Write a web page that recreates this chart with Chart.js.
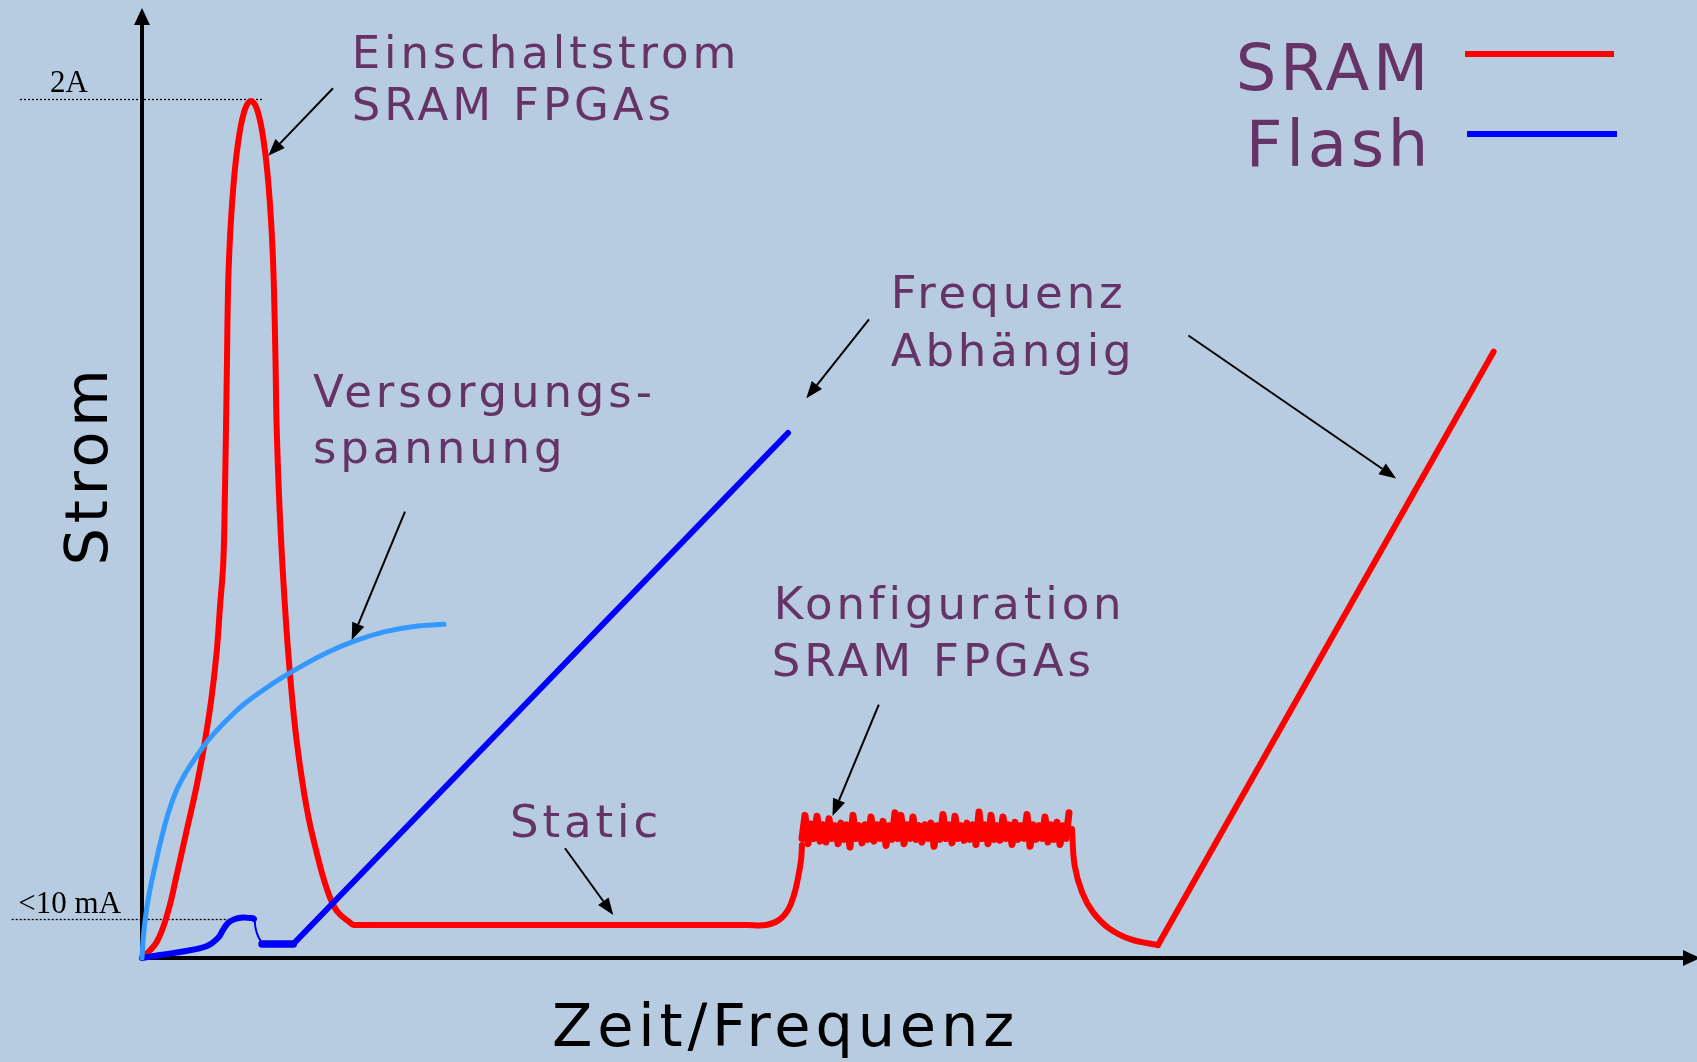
<!DOCTYPE html>
<html><head><meta charset="utf-8">
<script src="https://cdn.jsdelivr.net/npm/chart.js@4.4.1/dist/chart.umd.min.js"></script>
<style>html,body{margin:0;padding:0;background:#b8cce1;overflow:hidden}</style>
</head><body>
<canvas id="c" width="1697" height="1062"></canvas>
<script>
// ---------- DATA (x: Zeit/Frequenz units, y: Strom, 2A = 100) ----------
const seriesNames = ["SRAM", "Flash"];
const levelLabels = ["2A", "<10 mA"];
const levelValues = [100, 4.54];

// Versorgungsspannung (light blue)
const versX = [0, 0.15, 0.45, 0.85, 1.35, 1.9, 2.6, 3.4, 4.3, 5.3, 6.9, 9.07, 10.4, 12.2, 14.2, 16.4, 18.8, 21.5, 24.3, 27.2, 30.2];
const versY = [0, 2.68, 5.59, 8.26, 10.94, 13.73, 16.76, 19.38, 21.41, 23.22, 25.72, 28.36, 29.73, 31.25, 32.76, 34.26, 35.70, 36.98, 37.98, 38.59, 38.83];

// Flash: power-up bump and frequency ramp
const flashBumpX = [0, 1.8, 4.1, 6.5, 7.6, 8.1, 8.6, 9.3, 10.1, 10.8, 11.2, 11.35, 11.6, 12.0];
const flashBumpY = [0, 0.35, 0.76, 1.40, 2.33, 3.26, 4.07, 4.54, 4.71, 4.65, 4.54, 3.49, 2.56, 1.75];
const flashRampX = [12.0, 15.13, 64.6];
const flashRampY = [1.63, 1.63, 61.1];

// SRAM: inrush peak
const sramPeakX = [0, 1.47, 2.63, 3.47, 4.47, 5.47, 6.30, 6.97, 7.47, 7.80, 8.13, 8.28, 8.40, 8.50, 8.60, 8.74, 8.93, 9.15, 9.39, 9.65, 9.90, 10.13, 10.35, 10.61, 10.90, 11.19, 11.45, 11.67, 11.90, 12.15, 12.41, 12.65, 12.87, 13.06, 13.20, 13.35, 13.47, 13.80, 14.30, 14.80, 15.47, 16.47, 17.47, 18.47, 19.47, 20.97];
const sramPeakY = [0, 1.86, 5.50, 9.66, 14.85, 20.05, 25.25, 30.44, 35.63, 40.85, 46.03, 53.30, 61.61, 69.59, 77.74, 82.39, 86.47, 89.96, 92.87, 95.19, 96.94, 98.10, 98.92, 99.50, 99.73, 99.50, 98.92, 98.10, 96.94, 95.19, 92.87, 89.96, 86.47, 82.39, 77.74, 69.59, 61.61, 51.22, 40.85, 33.05, 25.25, 17.46, 12.25, 8.10, 5.50, 3.96];
// SRAM: static level and rise into configuration
const sramStaticX = [21.2, 60.5, 62.4, 63.7, 64.6, 65.2, 65.6, 65.9, 66.0];
const sramStaticY = [3.84, 3.84, 3.84, 4.42, 5.59, 7.33, 9.31, 11.40, 13.15];
// SRAM: configuration noise band
const bandX = [66.0, 66.6, 67.2, 67.8, 68.4, 69.0, 69.6, 70.2, 70.8, 71.4, 72.0, 72.6, 73.2, 73.8, 74.4, 75.0, 75.6, 76.2, 76.8, 77.4, 78.0, 78.6, 79.2, 79.8, 80.4, 81.0, 81.6, 82.2, 82.8, 83.4, 84.0, 84.6, 85.2, 85.8, 86.4, 87.0, 87.6, 88.2, 88.8, 89.4, 90.0, 90.6, 91.2, 91.8, 92.4];
const bandTop = [16.6, 15.6, 16.5, 15.5, 16.2, 15.4, 15.7, 15.5, 16.6, 15.4, 15.5, 16.4, 15.5, 15.9, 15.4, 16.9, 16.6, 15.5, 16.4, 15.4, 15.5, 15.7, 15.4, 16.7, 15.5, 16.5, 15.4, 15.7, 15.5, 17.0, 15.5, 16.6, 15.4, 16.4, 15.5, 15.8, 15.4, 16.7, 15.5, 15.4, 16.4, 15.5, 15.8, 15.4, 16.9];
const bandBottom = [13.9, 13.3, 13.9, 13.6, 13.5, 13.9, 13.3, 13.8, 12.9, 13.9, 13.4, 13.8, 13.6, 13.9, 13.1, 13.8, 13.9, 13.3, 13.9, 13.8, 13.5, 13.9, 13.0, 13.8, 13.9, 13.4, 13.9, 13.7, 13.8, 13.2, 13.9, 13.3, 13.8, 13.7, 13.9, 13.2, 13.8, 13.9, 13.0, 13.8, 13.9, 13.5, 13.8, 13.2, 13.9];
// SRAM: fall after configuration and frequency ramp
const sramFallX = [93.0, 93.27, 94.03, 95.11, 96.74, 98.9, 101.6];
const sramFallY = [15.0, 10.73, 7.58, 5.31, 3.42, 2.16, 1.51];
const sramRampX = [101.6, 135.16];
const sramRampY = [1.51, 70.56];

// ---------- ANNOTATIONS (data coordinates) ----------
const noteTexts = [
  {t: "Einschaltstrom", x: 20.97, y: 103.61},
  {t: "SRAM FPGAs", x: 20.97, y: 97.52},
  {t: "Versorgungs-", x: 17.1, y: 64.16},
  {t: "spannung", x: 17.1, y: 57.57},
  {t: "Frequenz", x: 74.87, y: 75.59},
  {t: "Abhängig", x: 74.87, y: 68.92},
  {t: "Konfiguration", x: 63.18, y: 39.5},
  {t: "SRAM FPGAs", x: 62.97, y: 32.85},
  {t: "Static", x: 36.8, y: 14.05}
];
const noteArrows = [
  [19.1, 101.21, 12.63, 93.37],
  [26.3, 51.94, 20.97, 37.01],
  [72.7, 74.33, 66.43, 65.13],
  [104.64, 72.44, 125.42, 55.81],
  [42.3, 12.77, 47.13, 5.00],
  [73.68, 29.49, 69.05, 16.52]
];
const levelLines = [
  {x0: -12.2, x1: 12.13, tx: -9.2, ty: 100.82},
  {x0: -13.03, x1: 11.3, tx: -12.37, ty: 5.20}
];

// ---------- STYLE ----------
const BG = '#b8cce1';
const PURPLE = '#663366';
const RED = '#ff0000', BLUE = '#0000ff', LIGHTBLUE = '#3399ff';
const FONT = '"DejaVu Sans", Verdana, sans-serif';
const SERIF = '"Liberation Serif", "Times New Roman", serif';

function pts(xs, ys) { return xs.map((x, i) => ({x: x, y: ys[i]})); }
const BAND_HALF = 0.3;
const bandPts = [];
bandX.forEach((x, i) => { bandPts.push({x: x, y: bandBottom[i]}); bandPts.push({x: x + BAND_HALF, y: bandTop[i]}); });

function setLS(c, v) { if ('letterSpacing' in c) c.letterSpacing = v + 'px'; }
function text(c, s, x, y, font, color, ls, align) {
  c.font = font; c.fillStyle = color; c.textAlign = align || 'left'; c.textBaseline = 'alphabetic';
  setLS(c, ls); c.fillText(s, x, y); setLS(c, 0);
}
function arrow(c, x0, y0, x1, y1, len, hw, lw) {
  const a = Math.atan2(y1 - y0, x1 - x0);
  const bx = x1 - len * Math.cos(a), by = y1 - len * Math.sin(a);
  c.beginPath(); c.lineWidth = lw; c.moveTo(x0, y0); c.lineTo(bx, by); c.stroke();
  c.beginPath(); c.moveTo(x1, y1);
  c.lineTo(bx + hw * Math.sin(a), by - hw * Math.cos(a));
  c.lineTo(bx - hw * Math.sin(a), by + hw * Math.cos(a));
  c.closePath(); c.fill();
}

const overlay = {
  id: 'overlay',
  beforeDraw(chart) {
    const c = chart.ctx; c.save(); c.fillStyle = BG; c.fillRect(0, 0, chart.width, chart.height); c.restore();
  },
  beforeDatasetsDraw(chart) {
    const c = chart.ctx, xs = chart.scales.x, ys = chart.scales.y;
    const ox = xs.getPixelForValue(0), oy = ys.getPixelForValue(0);
    c.save();
    c.strokeStyle = '#000'; c.fillStyle = '#000';
    arrow(c, ox, oy + 2, ox, 8, 17, 8, 4);
    arrow(c, ox - 2, oy, chart.width + 3, oy, 17, 8, 4);
    c.lineWidth = 1.3; c.setLineDash([2, 2]);
    levelLines.forEach((l, i) => {
      const y = Math.round(ys.getPixelForValue(levelValues[i])) + 0.5;
      c.beginPath(); c.moveTo(xs.getPixelForValue(l.x0), y); c.lineTo(xs.getPixelForValue(l.x1), y); c.stroke();
    });
    c.setLineDash([]);
    levelLines.forEach((l, i) => {
      text(c, levelLabels[i], xs.getPixelForValue(l.tx), ys.getPixelForValue(l.ty), '31px ' + SERIF, '#000', 0);
    });
    c.restore();
  },
  afterDatasetsDraw(chart) {
    const c = chart.ctx, xs = chart.scales.x, ys = chart.scales.y;
    c.save();
    noteTexts.forEach(n => text(c, n.t, xs.getPixelForValue(n.x), ys.getPixelForValue(n.y), '45px ' + FONT, PURPLE, 3.9));
    c.strokeStyle = '#000'; c.fillStyle = '#000';
    noteArrows.forEach(a => arrow(c, xs.getPixelForValue(a[0]), ys.getPixelForValue(a[1]),
      xs.getPixelForValue(a[2]), ys.getPixelForValue(a[3]), 17, 6.5, 2));
    text(c, 'Zeit/Frequenz', 552, 1046, '59px ' + FONT, '#000', 4.8);
    c.save(); c.translate(107, 465); c.rotate(-Math.PI / 2);
    text(c, 'Strom', 0, 0, '59px ' + FONT, '#000', 4.8, 'center');
    c.restore();
    const legendColors = [RED, BLUE];
    const legendY = [90, 166], lineY = [54, 134], lineX0 = [1465, 1467], lineX1 = [1614, 1617];
    seriesNames.forEach((s, i) => {
      text(c, s, 1432, legendY[i], '64px ' + FONT, PURPLE, 3.7, 'right');
      c.strokeStyle = legendColors[i]; c.lineWidth = 6; c.lineCap = 'butt';
      c.beginPath(); c.moveTo(lineX0[i], lineY[i]); c.lineTo(lineX1[i], lineY[i]); c.stroke();
    });
    c.restore();
  }
};

const smooth = {tension: 0.4};
new Chart(document.getElementById('c').getContext('2d'), {
  type: 'line',
  data: {
    datasets: [
      Object.assign({label: 'Versorgungsspannung', data: pts(versX, versY), borderColor: LIGHTBLUE, borderWidth: 5}, smooth),
      Object.assign({label: 'Flash', data: pts(flashBumpX, flashBumpY), borderColor: BLUE, borderWidth: 6,
        segment: {borderWidth: ctx => ctx.p0DataIndex >= 10 ? 2 : undefined}}, smooth),
      {label: 'Flash', data: pts(flashRampX, flashRampY), borderColor: BLUE, borderWidth: 6, tension: 0,
        segment: {borderWidth: ctx => ctx.p0DataIndex === 0 ? 7.5 : undefined}},
      Object.assign({label: 'SRAM', data: pts(sramPeakX, sramPeakY), borderColor: RED, borderWidth: 6}, smooth),
      Object.assign({label: 'SRAM', data: pts(sramStaticX, sramStaticY), borderColor: RED, borderWidth: 6}, smooth),
      {label: 'SRAM', data: bandPts, borderColor: RED, borderWidth: 7, tension: 0},
      Object.assign({label: 'SRAM', data: pts(sramFallX, sramFallY), borderColor: RED, borderWidth: 6}, smooth),
      {label: 'SRAM', data: pts(sramRampX, sramRampY), borderColor: RED, borderWidth: 6, tension: 0}
    ]
  },
  options: {
    responsive: false, animation: false, devicePixelRatio: 1,
    layout: {padding: 0},
    plugins: {legend: {display: false}, tooltip: {enabled: false}},
    elements: {point: {radius: 0, hoverRadius: 0}, line: {borderCapStyle: 'round', borderJoinStyle: 'round', fill: false}},
    scales: {
      x: {type: 'linear', min: -14.2, max: 155.5, display: false},
      y: {type: 'linear', min: -12.103, max: 111.486, display: false}
    }
  },
  plugins: [overlay]
});
</script>
</body></html>
